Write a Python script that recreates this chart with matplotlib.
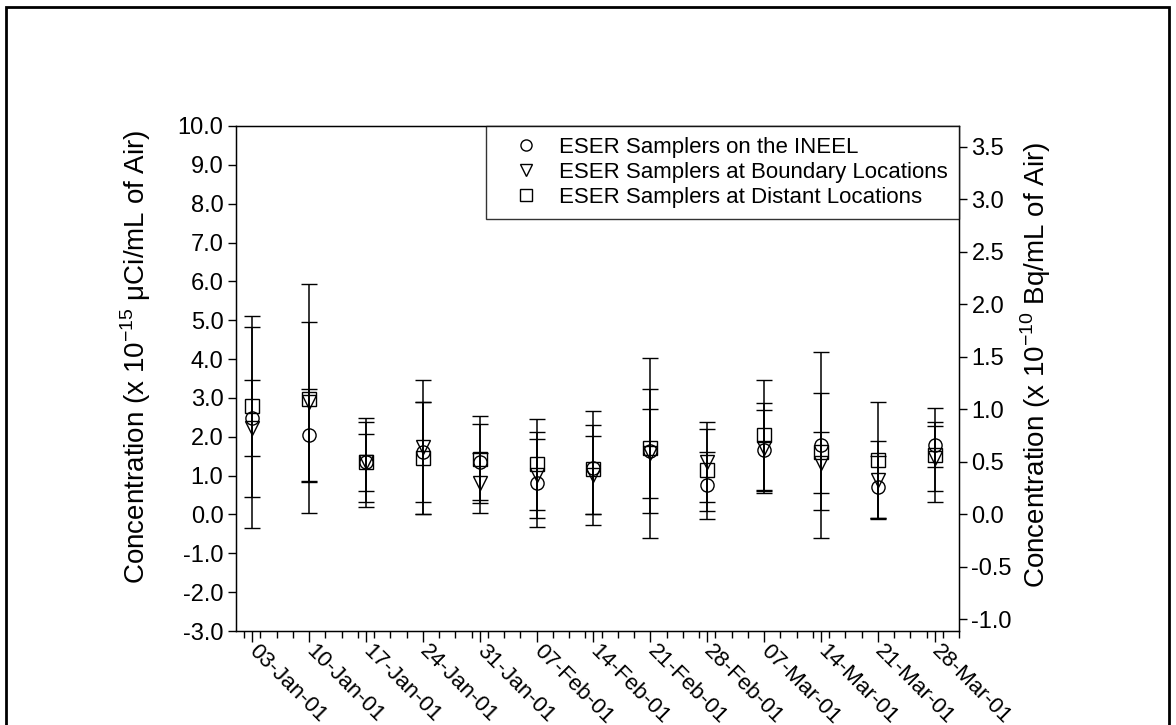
import numpy as np
import pandas as pd
import matplotlib
matplotlib.use("Agg")
import matplotlib.pyplot as plt
import matplotlib.dates as mdates
from matplotlib.lines import Line2D
from matplotlib.patches import Rectangle
from matplotlib.ticker import FormatStrFormatter, FixedLocator

plt.rcParams['font.family'] = ['Liberation Sans', 'DejaVu Sans']
plt.rcParams['mathtext.fontset'] = 'custom'
plt.rcParams['mathtext.rm'] = 'Liberation Sans'
plt.rcParams['axes.unicode_minus'] = False

# sampling weeks
dates = ['2001-01-03', '2001-01-10', '2001-01-17', '2001-01-24', '2001-01-31',
         '2001-02-07', '2001-02-14', '2001-02-21', '2001-02-28', '2001-03-07',
         '2001-03-14', '2001-03-21', '2001-03-28']
tick_labels = ['03-Jan-01', '10-Jan-01', '17-Jan-01', '24-Jan-01', '31-Jan-01',
               '07-Feb-01', '14-Feb-01', '21-Feb-01', '28-Feb-01', '07-Mar-01',
               '14-Mar-01', '21-Mar-01', '28-Mar-01']

# x 10^-15 uCi/mL, with +/- uncertainty
ineel = [2.48, 2.04, 1.34, 1.60, 1.35, 0.82, 1.20, 1.64, 0.75, 1.65, 1.79, 0.71, 1.80]
ineel_err = [0.97, 1.20, 0.73, 1.29, 0.98, 1.13, 1.46, 1.60, 0.86, 1.03, 2.39, 0.79, 0.57]

boundary = [2.23, 2.90, 1.35, 1.74, 0.82, 1.02, 1.02, 1.57, 1.34, 1.71, 1.33, 0.89, 1.45]
boundary_err = [2.59, 2.05, 1.02, 1.73, 0.77, 1.10, 1.01, 1.15, 1.03, 1.15, 0.79, 1.01, 0.84]

distant = [2.79, 2.98, 1.34, 1.45, 1.42, 1.29, 1.16, 1.72, 1.15, 2.04, 1.62, 1.40, 1.53]
distant_err = [2.33, 2.94, 1.15, 1.44, 1.12, 1.17, 1.15, 2.32, 1.05, 1.43, 1.51, 1.49, 1.22]

labels = ['ESER Samplers on the INEEL',
          'ESER Samplers at Boundary Locations',
          'ESER Samplers at Distant Locations']

UCI_TO_BQ = 0.37  # 1e-15 uCi/mL = 0.37e-10 Bq/mL

x = mdates.date2num(pd.to_datetime(dates))

fig = plt.figure(figsize=(11.76, 7.25), dpi=100)
ax = fig.add_axes([236/1176, 1 - 631/725, (959-236)/1176, (631-126)/725])

series = [(ineel, ineel_err, 'o'), (boundary, boundary_err, 'v'), (distant, distant_err, 's')]
for vals, errs, mk in series:
    ax.errorbar(x, vals, yerr=errs, fmt=mk, color='black', ms=9.5, mfc='none',
                mec='black', mew=1.0, ecolor='black', elinewidth=1.1,
                capsize=5.5, capthick=1.1)

ax.set_xlim(mdates.date2num(pd.Timestamp('2001-01-01')),
            mdates.date2num(pd.Timestamp('2001-03-31')))
ax.set_ylim(-3, 10)
ax.set_yticks(np.arange(-3, 10.01, 1.0))
ax.yaxis.set_major_formatter(FormatStrFormatter('%.1f'))

ax.set_xticks(x)
ax.set_xticklabels(tick_labels, rotation=-45, ha='left', va='center',
                   rotation_mode='anchor')
minor = mdates.date2num(pd.date_range('2001-01-02', '2001-03-31', freq='2D'))
ax.xaxis.set_minor_locator(FixedLocator(minor))

ax.tick_params(axis='y', direction='out', length=6, width=1, labelsize=17, pad=3)
ax.tick_params(axis='x', which='major', direction='out', length=8, width=1,
               labelsize=16, pad=4)
ax.tick_params(axis='x', which='minor', direction='out', length=5, width=1)
for s in ax.spines.values():
    s.set_linewidth(1.0)

ax.set_ylabel('Concentration (x 10$^{-15}$ \u03bcCi/mL of Air)', fontsize=20)
ax.yaxis.set_label_coords(-0.115, 0.543)

ax2 = ax.twinx()
ax2.set_ylim(-3 * UCI_TO_BQ, 10 * UCI_TO_BQ)
ax2.set_yticks(np.arange(-1.0, 3.51, 0.5))
ax2.yaxis.set_major_formatter(FormatStrFormatter('%.1f'))
ax2.tick_params(axis='y', direction='out', length=6, width=1, labelsize=17, pad=3)
ax2.set_ylabel('Concentration (x 10$^{-10}$ Bq/mL of Air)', fontsize=20)
ax2.yaxis.set_label_coords(1.082, 0.527)

handles = [Line2D([], [], ls='none', marker=mk, ms=8, mfc='none', mec='black', mew=1.0)
           for mk in ['o', 'v', 's']]
leg = ax2.legend(handles, labels, loc='upper right', bbox_to_anchor=(1.0, 1.0),
                 borderaxespad=0, fontsize=16, frameon=True, fancybox=False,
                 handlelength=2.6, handletextpad=0.2, labelspacing=0.18,
                 borderpad=0.5)
leg.get_frame().set_edgecolor('black')
leg.get_frame().set_linewidth(1.0)

fig.patches.append(Rectangle((6/1176, -0.1), (1169-6)/1176, 1.1 - 7/725,
                             transform=fig.transFigure, fill=False,
                             edgecolor='black', linewidth=2))

fig.savefig('out.png', dpi=100)
